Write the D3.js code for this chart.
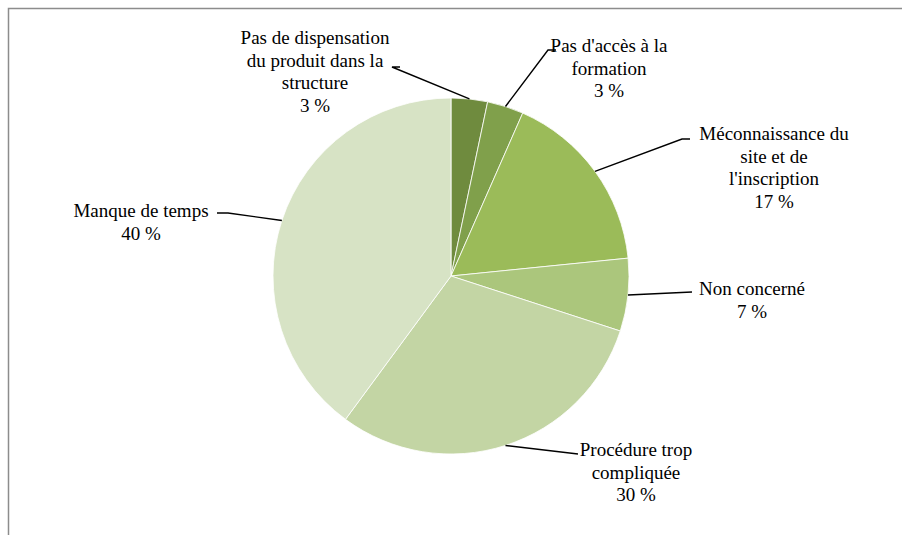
<!DOCTYPE html>
<meta charset="utf-8">
<script src="https://d3js.org/d3.v7.min.js"></script>
<style>
  body { margin: 0; background: #fff; }
</style>
<div id="chart"></div>
<script>
// data
var categories = ["Pas de dispensation du produit dans la structure", "Pas d'accès à la formation",
  "Méconnaissance du site et de l'inscription", "Non concerné", "Procédure trop compliquée", "Manque de temps"];
var values = [3.3, 3.3, 16.8, 6.6, 30.1, 39.9];
var labelLines = [
  ["Pas de dispensation", "du produit dans la", "structure"],
  ["Pas d'accès à la", "formation"],
  ["Méconnaissance du", "site et de", "l'inscription"],
  ["Non concerné"],
  ["Procédure trop", "compliquée"],
  ["Manque de temps"]
];
var colors = ["#6f8b3e", "#80a04b", "#9bbb59", "#abc67c", "#c3d5a4", "#d7e3c5"];

// label layout: text centre, first line baseline, elbow of the leader line
var labelPos = [
  {x: 315, y: 44, elbow: [[392, 67], [400, 67]]},
  {x: 609, y: 52, elbow: [[548, 50], [556, 50]]},
  {x: 774, y: 140, elbow: [[682, 139], [690, 139]]},
  {x: 752, y: 295, elbow: [[692, 292]]},
  {x: 636, y: 456, elbow: [[578, 454]]},
  {x: 141, y: 217, elbow: [[228, 213], [217, 213]]}
];

var width = 902, height = 535;
var cx = 451, cy = 276, radius = 178;

var svg = d3.select("#chart").append("svg")
  .attr("width", width)
  .attr("height", height);

// chart frame (runs off the bottom/right of the picture)
svg.append("rect")
  .attr("x", 8.5).attr("y", 8.5)
  .attr("width", 1000).attr("height", 1000)
  .attr("fill", "none")
  .attr("stroke", "#8c8c8c")
  .attr("stroke-width", 1.5);

var g = svg.append("g").attr("transform", "translate(" + cx + "," + cy + ")");

var pie = d3.pie().sort(null).value(function(d) { return d; });
var arcs = pie(values);
var arc = d3.arc().innerRadius(0).outerRadius(radius);

g.selectAll("path.slice")
  .data(arcs)
  .enter().append("path")
  .attr("class", "slice")
  .attr("d", arc)
  .attr("fill", function(d, i) { return colors[i]; })
  .attr("stroke", "#fff")
  .attr("stroke-width", 0.8);

// leader lines
arcs.forEach(function(d, i) {
  var a = (d.startAngle + d.endAngle) / 2;
  var p0 = [cx + radius * Math.sin(a), cy - radius * Math.cos(a)];
  var pts = [p0].concat(labelPos[i].elbow);
  svg.append("path")
    .attr("d", d3.line()(pts))
    .attr("fill", "none")
    .attr("stroke", "#000")
    .attr("stroke-width", 1.4);
});

// labels, one text element per line, centred by measuring
labelLines.forEach(function(ll, i) {
  var lines = ll.concat([Math.round(values[i]) + " %"]);
  lines.forEach(function(s, k) {
    var t = svg.append("text")
      .attr("x", labelPos[i].x)
      .attr("y", labelPos[i].y + k * 22.5)
      .attr("font-family", "Liberation Serif")
      .attr("font-size", 19)
      .text(s);
    var w = t.node().getComputedTextLength();
    t.attr("x", labelPos[i].x - w / 2);
  });
});
</script>
